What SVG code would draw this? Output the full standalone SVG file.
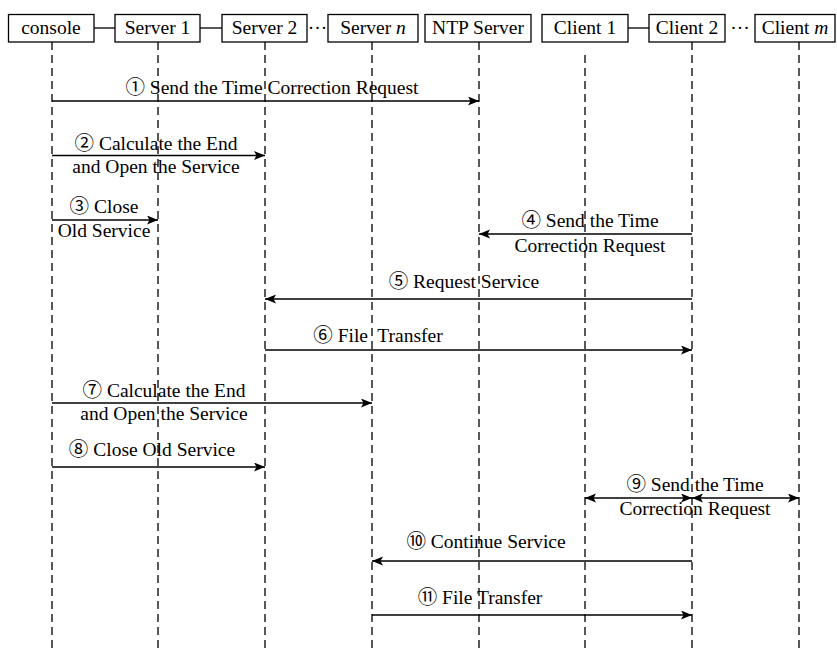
<svg xmlns="http://www.w3.org/2000/svg" width="837" height="653" viewBox="0 0 837 653">
  <style>
    .box { fill: #fff; stroke: #000; stroke-width: 1.3; }
    .link { stroke: #000; stroke-width: 1.3; fill: none; }
    .life { stroke: #000; stroke-width: 1.3; stroke-dasharray: 8 5; fill: none; }
    .msg { stroke: #000; stroke-width: 1.5; fill: none; }
    text { font-family: "Liberation Serif", "Noto Sans CJK SC", serif; font-size: 19.5px; fill: #000; text-anchor: middle; }
    .it { font-style: italic; }
  </style>
  <defs>
    <marker id="ah" markerUnits="userSpaceOnUse" markerWidth="12" markerHeight="10" refX="11" refY="4.5" orient="auto-start-reverse">
      <path d="M0,0 L11,4.5 L0,9 L2.5,4.5 z" fill="#000"/>
    </marker>
  </defs>

  <!-- lifelines -->
  <g id="lifelines">
    <line class="life" x1="52" y1="42" x2="52" y2="653"/>
    <line class="life" x1="158" y1="42" x2="158" y2="653"/>
    <line class="life" x1="265" y1="42" x2="265" y2="653"/>
    <line class="life" x1="372" y1="42" x2="372" y2="653"/>
    <line class="life" x1="479" y1="42" x2="479" y2="650"/>
    <line class="life" x1="585" y1="55" x2="585" y2="650"/>
    <line class="life" x1="692" y1="42" x2="692" y2="653"/>
    <line class="life" x1="799" y1="42" x2="799" y2="653"/>
  </g>

  <!-- header links between participant boxes -->
  <g id="header-links">
    <line class="link" x1="94" y1="28" x2="115" y2="28"/>
    <line class="link" x1="200" y1="28" x2="222" y2="28"/>
    <line class="link" x1="628" y1="28" x2="649" y2="28"/>
    <text x="317.5" y="34">···</text>
    <text x="740" y="34">···</text>
  </g>

  <!-- participants -->
  <g id="console">
    <rect class="box" x="8.5" y="14.5" width="85.5" height="27.5"/>
    <text x="51" y="34">console</text>
  </g>
  <g id="server1">
    <rect class="box" x="115" y="14.5" width="85" height="27.5"/>
    <text x="157.5" y="34">Server 1</text>
  </g>
  <g id="server2">
    <rect class="box" x="222" y="14.5" width="85" height="27.5"/>
    <text x="264.5" y="34">Server 2</text>
  </g>
  <g id="servern">
    <rect class="box" x="328" y="14.5" width="90" height="27.5"/>
    <text x="373" y="34">Server <tspan class="it">n</tspan></text>
  </g>
  <g id="ntp">
    <rect class="box" x="425" y="14.5" width="106" height="27.5"/>
    <text x="478" y="34">NTP Server</text>
  </g>
  <g id="client1">
    <rect class="box" x="542" y="14.5" width="86" height="27.5"/>
    <text x="585" y="34">Client 1</text>
  </g>
  <g id="client2">
    <rect class="box" x="649" y="14.5" width="76" height="27.5"/>
    <text x="687" y="34">Client 2</text>
  </g>
  <g id="clientm">
    <rect class="box" x="755" y="14.5" width="80" height="27.5"/>
    <text x="795" y="34">Client <tspan class="it">m</tspan></text>
  </g>

  <!-- messages -->
  <g id="connectors">
    <line class="msg" x1="52" y1="101" x2="479" y2="101" marker-end="url(#ah)"/>
    <line class="msg" x1="52" y1="155.5" x2="265" y2="155.5" marker-end="url(#ah)"/>
    <line class="msg" x1="52" y1="220" x2="158" y2="220" marker-end="url(#ah)"/>
    <line class="msg" x1="692" y1="234" x2="479" y2="234" marker-end="url(#ah)"/>
    <line class="msg" x1="692" y1="299" x2="265" y2="299" marker-end="url(#ah)"/>
    <line class="msg" x1="265" y1="350" x2="692" y2="350" marker-end="url(#ah)"/>
    <line class="msg" x1="52" y1="403" x2="372" y2="403" marker-end="url(#ah)"/>
    <line class="msg" x1="52" y1="467" x2="265" y2="467" marker-end="url(#ah)"/>
    <line class="msg" x1="585" y1="498" x2="692" y2="498" marker-start="url(#ah)" marker-end="url(#ah)"/>
    <line class="msg" x1="692" y1="498" x2="799" y2="498" marker-start="url(#ah)" marker-end="url(#ah)"/>
    <line class="msg" x1="692" y1="561" x2="372" y2="561" marker-end="url(#ah)"/>
    <line class="msg" x1="372" y1="615" x2="692" y2="615" marker-end="url(#ah)"/>
  </g>

  <!-- message labels -->
  <g id="labels">
    <text x="272" y="94">① Send the Time Correction Request</text>
    <text x="156" y="150">② Calculate the End</text>
    <text x="156" y="173">and Open the Service</text>
    <text x="104" y="213">③ Close</text>
    <text x="104" y="237">Old Service</text>
    <text x="590" y="227">④ Send the Time</text>
    <text x="590" y="252">Correction Request</text>
    <text x="464" y="288">⑤ Request Service</text>
    <text x="378" y="342">⑥ File&#160; Transfer</text>
    <text x="164" y="397">⑦ Calculate the End</text>
    <text x="164" y="420">and Open the Service</text>
    <text x="152" y="456">⑧ Close Old Service</text>
    <text x="695" y="491">⑨ Send the Time</text>
    <text x="695" y="515">Correction Request</text>
    <text x="486" y="548">⑩ Continue Service</text>
    <text x="480" y="604">⑪ File Transfer</text>
  </g>
</svg>
